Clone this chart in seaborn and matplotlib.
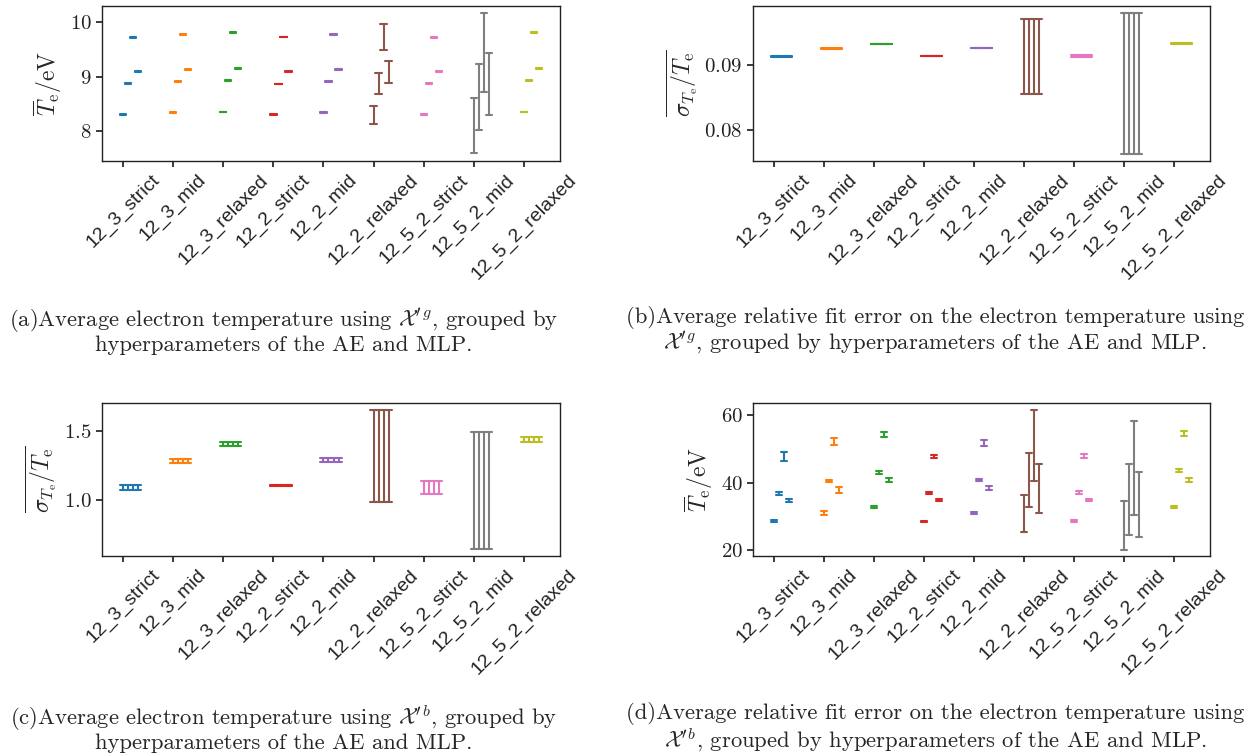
import numpy as np
import pandas as pd
import matplotlib
matplotlib.use("Agg")
import matplotlib.pyplot as plt
import seaborn as sns

# ---------------- data ----------------
categories = ["12_3_strict", "12_3_mid", "12_3_relaxed", "12_2_strict", "12_2_mid",
              "12_2_relaxed", "12_5_2_strict", "12_5_2_mid", "12_5_2_relaxed"]

# (a) mean electron temperature [eV], 4 runs per configuration
a_mean = [
    [8.31, 8.87, 9.72, 9.10],
    [8.34, 8.91, 9.78, 9.13],
    [8.35, 8.93, 9.81, 9.15],
    [8.31, 8.87, 9.73, 9.10],
    [8.34, 8.91, 9.78, 9.13],
    [8.30, 8.87, 9.73, 9.09],
    [8.31, 8.87, 9.72, 9.10],
    [8.10, 8.63, 9.44, 8.87],
    [8.35, 8.93, 9.81, 9.15],
]
a_err = [
    [0.006, 0.006, 0.008, 0.006],
    [0.006, 0.006, 0.008, 0.006],
    [0.005, 0.005, 0.006, 0.005],
    [0.005, 0.005, 0.006, 0.005],
    [0.006, 0.006, 0.008, 0.006],
    [0.17, 0.195, 0.245, 0.20],
    [0.008, 0.010, 0.015, 0.010],
    [0.51, 0.61, 0.73, 0.57],
    [0.005, 0.006, 0.008, 0.006],
]

# (b) mean relative fit error (identical for the 4 runs)
b_mean = [0.09129, 0.09247, 0.09314, 0.09134, 0.09253, 0.09129, 0.09129, 0.08714, 0.09325]
b_err = [0.00008, 0.00005, 0.00005, 0.00004, 0.00005, 0.00572, 0.00015, 0.01075, 0.00006]

# (c) mean relative fit error (identical for the 4 runs)
c_mean = [1.088, 1.281, 1.405, 1.104, 1.289, 1.318, 1.092, 1.068, 1.435]
c_err = [0.018, 0.013, 0.016, 0.004, 0.016, 0.332, 0.046, 0.423, 0.019]

# (d) mean electron temperature [eV], 4 runs per configuration
d_mean = [
    [28.59, 36.92, 47.84, 34.74],
    [30.97, 40.60, 52.16, 37.87],
    [32.85, 42.98, 54.14, 40.90],
    [28.59, 37.02, 47.84, 34.84],
    [31.07, 40.80, 51.76, 38.30],
    [30.97, 40.75, 50.97, 38.31],
    [28.68, 37.02, 47.94, 34.84],
    [27.40, 35.04, 44.42, 33.50],
    [32.85, 43.67, 54.54, 40.80],
]
d_err = [
    [0.30, 0.45, 1.30, 0.45],
    [0.55, 0.30, 0.95, 0.85],
    [0.35, 0.40, 0.75, 0.55],
    [0.20, 0.30, 0.40, 0.35],
    [0.35, 0.40, 0.75, 0.60],
    [5.46, 8.09, 10.57, 7.25],
    [0.20, 0.40, 0.60, 0.40],
    [7.25, 10.42, 13.95, 9.58],
    [0.35, 0.40, 0.85, 0.55],
]

n_runs = 4
run_offsets = [0.0, 0.1, 0.2, 0.3]

captions = [
    "(a)Average electron temperature using $\\mathcal{X}^{\\prime\\, g}$, grouped by\nhyperparameters of the AE and MLP.",
    "(b)Average relative fit error on the electron temperature using\n$\\mathcal{X}^{\\prime\\, g}$, grouped by hyperparameters of the AE and MLP.",
    "(c)Average electron temperature using $\\mathcal{X}^{\\prime\\, b}$, grouped by\nhyperparameters of the AE and MLP.",
    "(d)Average relative fit error on the electron temperature using\n$\\mathcal{X}^{\\prime\\, b}$, grouped by hyperparameters of the AE and MLP.",
]
label_T = r"$\overline{T}_\mathrm{e}/\mathrm{eV}$"
label_sig = r"$\overline{\sigma_{T_\mathrm{e}}/T_\mathrm{e}}$"

# ---------------- style ----------------
sns.set_theme(style="ticks")
plt.rcParams["font.family"] = ["cmr10", "DejaVu Serif"]
plt.rcParams["mathtext.fontset"] = "cm"
plt.rcParams["axes.formatter.use_mathtext"] = True
plt.rcParams["axes.edgecolor"] = "#222222"
plt.rcParams["axes.linewidth"] = 1.0
plt.rcParams["xtick.color"] = "#222222"
plt.rcParams["ytick.color"] = "#222222"
plt.rcParams["xtick.major.size"] = 4
plt.rcParams["ytick.major.size"] = 4

palette = sns.color_palette("tab10", len(categories))


def build(means, errs):
    rows = []
    for i, cat in enumerate(categories):
        for j in range(n_runs):
            m = means[i][j] if np.ndim(means[i]) else means[i]
            e = errs[i][j] if np.ndim(errs[i]) else errs[i]
            x = i + run_offsets[j]
            rows.append((cat, x, m - e))
            rows.append((cat, x, m + e))
    return pd.DataFrame(rows, columns=["config", "pos", "value"])


fig = plt.figure(figsize=(12.59, 7.55), dpi=100)
W, H = 1259, 755
boxes = [
    (102, 6, 560, 161),
    (753, 6, 1210, 161),
    (102, 403, 560, 556),
    (753, 403, 1210, 556),
]
panels = [
    (a_mean, a_err, label_T, (7.45, 10.30), [8, 9, 10]),
    (b_mean, b_err, label_sig, (0.07526, 0.09897), [0.08, 0.09]),
    (c_mean, c_err, label_sig, (0.597, 1.70), [1.0, 1.5]),
    (d_mean, d_err, label_T, (18.3, 63.6), [20, 40, 60]),
]
cap_pos = [(284, 331), (935, 331), (284, 728), (935, 728)]

for k, ((l, t, r, b), (mean, err, ylab, ylim, yt)) in enumerate(zip(boxes, panels)):
    ax = fig.add_axes([l / W, 1 - b / H, (r - l) / W, (b - t) / H])
    df = build(mean, err)
    sns.pointplot(data=df, x="pos", y="value", hue="config", hue_order=categories,
                  palette=palette, native_scale=True, estimator="mean",
                  errorbar=("pi", 100), capsize=1.3, err_kws={"linewidth": 1.5},
                  linestyle="none", marker="", legend=False, ax=ax)
    ax.set_xlim(-0.415, 8.715)
    ax.set_ylim(*ylim)
    ax.set_yticks(yt)
    ax.set_xticks(range(len(categories)))
    ax.set_xticklabels(categories, rotation=45, fontsize=14,
                       family=["Liberation Sans", "DejaVu Sans"])
    ax.tick_params(axis="y", labelsize=15)
    ax.set_xlabel("")
    ax.set_ylabel(ylab, fontsize=17)
    for sp in ax.spines.values():
        sp.set_visible(True)
    cx, cy = cap_pos[k]
    fig.text(cx / W, 1 - cy / H, captions[k], ha="center", va="center",
             fontsize=16.3, linespacing=1.05)

fig.savefig("out.png", dpi=100)
